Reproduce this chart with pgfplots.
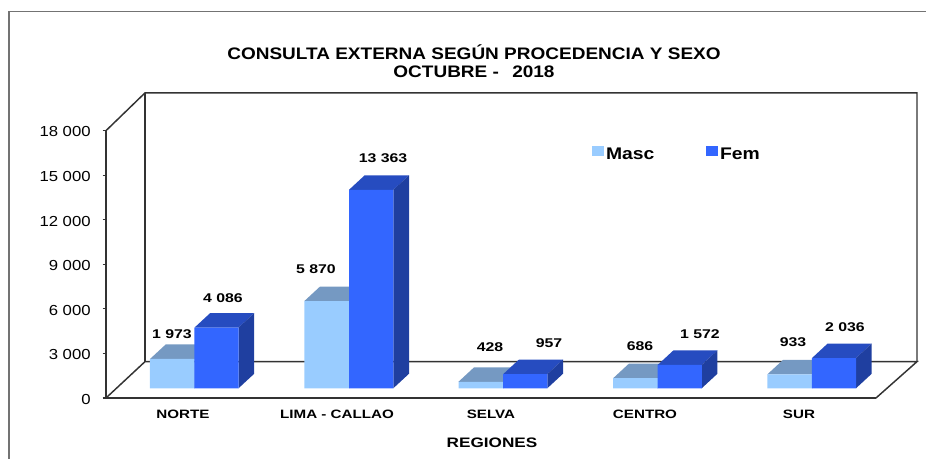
\documentclass[border=0pt]{standalone}
\usepackage{fontspec}
\setmainfont[FakeStretch=1.15]{Liberation Sans}
\newfontfamily\titlefont[FakeStretch=1.14]{Liberation Sans Bold}
\newfontfamily\boldwide[FakeStretch=1.25]{Liberation Sans Bold}
\usepackage{pgfplots}
\pgfplotsset{compat=1.18}
\definecolor{mascF}{HTML}{99CCFF}
\definecolor{mascT}{HTML}{7599C2}
\definecolor{femF}{HTML}{3366FF}
\definecolor{femT}{HTML}{264CC0}
\definecolor{femS}{HTML}{1F3FA0}
\definecolor{wall}{HTML}{333333}
\newcommand\faces[5]{%
  \pgfmathsetmacro\ya{654+#3}%
  \pgfmathsetmacro\yb{654+#3+978}%
  \pgfmathsetmacro\xc{#2+15.7}%
  \pgfmathsetmacro\xd{#1+15.7}%
  \addplot[fill=#4,draw=none,forget plot] coordinates {(#1,\ya) (#2,\ya) (\xc,\yb) (\xd,\yb)};
  \addplot[fill=#5,draw=none,forget plot] coordinates {(#2,654) (\xc,1632) (\xc,\yb) (#2,\ya)};
}
\newcommand\lab[3]{\node[font=\boldwide\fontsize{9.5}{11}\selectfont,anchor=center] at (axis cs:#1,#2) {#3};}
\begin{document}
\begin{tikzpicture}
\useasboundingbox (0,0) rectangle (694.5pt,344.25pt);
\begin{axis}[
  at={(79.5pt,45.75pt)},anchor=south west,
  scale only axis,width=577.5pt,height=200.5pt,
  xmin=106,xmax=876,ymin=0,ymax=18000,clip=false,
  scaled y ticks=false,
  axis lines=left,axis line style={-,draw=wall,line width=1.1pt},
  tick align=outside,tick style={draw=wall,line width=0.8pt},
  major tick length=2.5pt,
  ytick={0,3000,6000,9000,12000,15000,18000},
  yticklabels={0,3 000,6 000,9 000,12 000,15 000,18 000},
  yticklabel style={font=\fontsize{10.9}{12}\selectfont,xshift=-5.5pt,yshift=-1pt},
  xtick={183,337,491,645,799},
  xticklabels={NORTE,LIMA - CALLAO,SELVA,CENTRO,SUR},
  xticklabel style={font=\boldwide\fontsize{9.1}{11}\selectfont,yshift=-3pt},
  x tick style={draw=none},
  extra x ticks={106,260,414,568,722,876},
  extra x tick labels={},
  extra x tick style={tick style={draw=wall,line width=0.8pt},major tick length=2.5pt},
  legend style={at={(axis cs:592,17060)},anchor=north west,draw=none,fill=none,
    font=\bfseries\fontsize{12.6}{13}\selectfont,legend columns=2,
    /tikz/every even column/.style={column sep=37pt},
    /tikz/every odd column/.style={column sep=-0.7pt},inner sep=0pt},
  legend cell align=left,
]
% frame
\addplot[draw=gray!90!black,line width=1.1pt,forget plot] coordinates {(9,-4113) (9,26024) (926,26024)};
% walls
\addplot[draw=wall,line width=1.1pt,forget plot] coordinates {(106,0) (145,2447) (917,2447) (876,0)};
\addplot[draw=wall,line width=1.1pt,forget plot] coordinates {(106,18000) (145,20543) (917,20543) (917,2447)};
\addplot[draw=wall,line width=1.1pt,forget plot] coordinates {(145,2447) (145,20543)};
% Masc
\faces{150}{194.5}{1973}{mascT}{femS}
\faces{304.3}{349}{5870}{mascT}{femS}
\faces{458.3}{503.3}{428}{mascT}{femS}
\faces{613.3}{657.7}{686}{mascT}{femS}
\faces{767.3}{812}{933}{mascT}{femS}
\addplot[ybar,bar width=33.4pt,bar shift=0pt,yshift=7.275pt,fill=mascF,draw=none,
  legend image code/.code={\fill[mascF] (0pt,-8.25pt) rectangle (9pt,-0.75pt);}]
  coordinates {(172.25,1973) (326.65,5870) (480.8,428) (635.5,686) (789.65,933)};
\addlegendentry{Masc}
% Fem
\faces{194.5}{238.5}{4086}{femT}{femS}
\faces{349}{393.3}{13363}{femT}{femS}
\faces{503.3}{547.3}{957}{femT}{femS}
\faces{657.7}{701.7}{1572}{femT}{femS}
\faces{812}{856}{2036}{femT}{femS}
\addplot[ybar,bar width=33.2pt,bar shift=0pt,yshift=7.275pt,fill=femF,draw=none,
  legend image code/.code={\fill[femF] (0pt,-8.25pt) rectangle (9pt,-0.75pt);}]
  coordinates {(216.5,4086) (371.15,13363) (525.3,957) (679.7,1572) (834,2036)};
\addlegendentry{Fem}
% data labels
\lab{172}{4315}{1 973}
\lab{223}{6742}{4 086}
\lab{316}{8697}{5 870}
\lab{383}{16120}{13 363}
\lab{490}{3438}{428}
\lab{549}{3708}{957}
\lab{640}{3506}{686}
\lab{700}{4315}{1 572}
\lab{793}{3775}{933}
\lab{845}{4787}{2 036}
% axis title and chart title
\node[font=\boldwide\fontsize{10.3}{11}\selectfont,anchor=center] at (axis cs:492,-3000) {REGIONES};
\node[font=\titlefont\fontsize{12.5}{13.5}\selectfont,align=center,anchor=center] at (axis cs:474,22695) {CONSULTA EXTERNA SEGÚN PROCEDENCIA Y SEXO\\OCTUBRE -\ \ \,2018};
\end{axis}
\end{tikzpicture}
\end{document}
